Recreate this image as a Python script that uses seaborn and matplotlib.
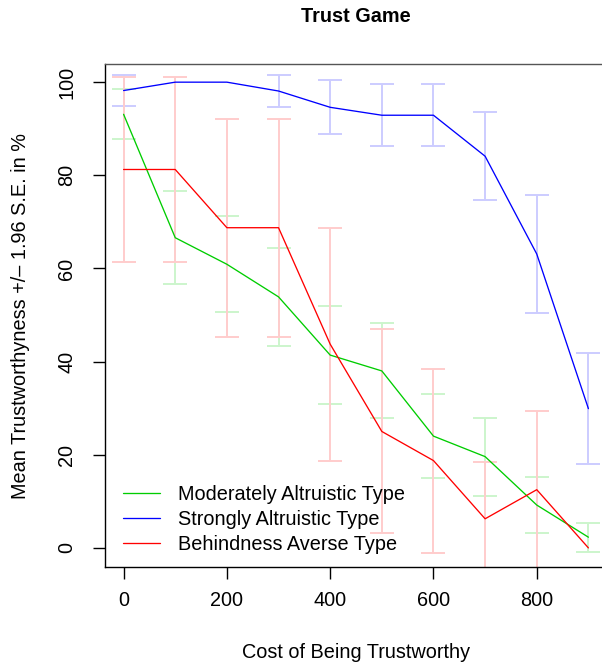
import numpy as np
import pandas as pd
import seaborn as sns
import matplotlib
matplotlib.use("Agg")
import matplotlib.pyplot as plt

# values
cost = [0, 100, 200, 300, 400, 500, 600, 700, 800, 900]

moderate_mean = [93.1, 66.6, 60.9, 53.9, 41.4, 38.0, 24.0, 19.6, 9.2, 2.3]
moderate_ci = [5.35, 10.0, 10.3, 10.55, 10.45, 10.2, 9.0, 8.35, 6.1, 3.15]

strong_mean = [98.2, 100.0, 100.0, 98.1, 94.6, 92.9, 92.9, 84.1, 63.1, 29.9]
strong_ci = [3.4, 0.0, 0.0, 3.4, 5.8, 6.7, 6.7, 9.5, 12.6, 11.95]

averse_mean = [81.25, 81.25, 68.75, 68.75, 43.75, 25.0, 18.75, 6.25, 12.5, 0.0]
averse_ci = [19.8, 19.8, 23.4, 23.4, 25.0, 21.9, 19.75, 12.2, 16.9, 0.0]

type_names = ["Moderately Altruistic Type", "Strongly Altruistic Type", "Behindness Averse Type"]
line_colors = ["#00CD00", "#0000FF", "#FF0000"]
bar_colors = ["#CCF5CC", "#CCCCFF", "#FFCCCC"]


def build_frame():
    """Long table with one row per type and cost level."""
    parts = []
    for name, m, c in zip(type_names,
                          [moderate_mean, strong_mean, averse_mean],
                          [moderate_ci, strong_ci, averse_ci]):
        parts.append(pd.DataFrame({"cost": cost, "mean": m, "ci": c, "type": name}))
    return pd.concat(parts, ignore_index=True)


df = build_frame()

sns.set_style("ticks")
plt.rcParams["font.family"] = ["Liberation Sans", "DejaVu Sans"]
plt.rcParams["font.size"] = 14.3
for key in ["text.color", "axes.labelcolor", "xtick.color", "ytick.color"]:
    plt.rcParams[key] = "black"

fig = plt.figure(figsize=(6.02, 6.68), dpi=100)
ax = fig.add_axes([105 / 602, 101 / 668, 502 / 602, 503 / 668])

# error bars first, so the mean lines sit on top
for name, col in zip(type_names, bar_colors):
    sub = df[(df["type"] == name) & (df["ci"] > 0)]
    ax.errorbar(sub["cost"], sub["mean"], yerr=sub["ci"], fmt="none",
                ecolor=col, elinewidth=1.4, capsize=8.6, capthick=1.4, zorder=1)

sns.lineplot(data=df, x="cost", y="mean", hue="type", hue_order=type_names,
             palette=line_colors, linewidth=0.95, ax=ax, zorder=3)

ax.set_xlim(-36, 936)
ax.set_ylim(-4.1, 103.9)
ax.set_xticks([0, 200, 400, 600, 800])
ax.set_yticks([0, 20, 40, 60, 80, 100])
ax.tick_params(axis="both", length=8.6, width=1.0, color="black",
               labelcolor="black", labelsize=14.3)
ax.tick_params(axis="x", pad=9)
ax.tick_params(axis="y", pad=12)
plt.setp(ax.get_yticklabels(), rotation=90, va="center")

for side in ["left", "bottom"]:
    ax.spines[side].set_color("black")
    ax.spines[side].set_linewidth(1.0)
for side in ["top", "right"]:
    ax.spines[side].set_visible(True)
    ax.spines[side].set_color("#555555")
    ax.spines[side].set_linewidth(1.0)

ax.set_xlabel("Cost of Being Trustworthy", fontsize=14.3, color="black")
ax.xaxis.set_label_coords(0.5, (567 - 652) / 503)
ax.xaxis.label.set_va("center")
ax.set_ylabel("Mean Trustworthyness +/\u2013 1.96 S.E. in %", fontsize=14.3, color="black")
ax.yaxis.set_label_coords((21 - 105) / 502, 0.5)
ax.yaxis.label.set_va("center")

fig.text(356 / 602, 1 - 17 / 668, "Trust Game", ha="center", va="center",
         fontsize=14.3, fontweight="bold", color="black")

sns.move_legend(ax, "lower left", bbox_to_anchor=((123 - 105) / 502, 0.026),
                frameon=False, title=None, borderpad=0, borderaxespad=0,
                handlelength=1.87, handletextpad=0.9, labelspacing=0.3,
                fontsize=14.3)

fig.savefig("out.png", dpi=100)
